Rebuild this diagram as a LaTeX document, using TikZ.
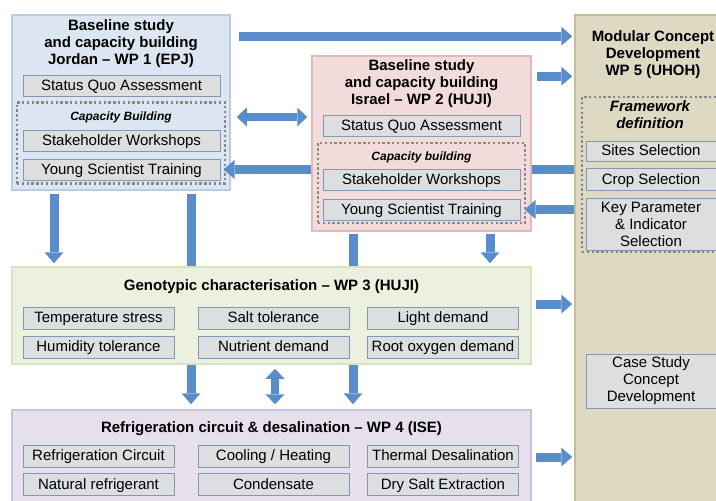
\documentclass[tikz,border=0pt]{standalone}
\usepackage{fontspec}
\setmainfont{Liberation Sans}
\usetikzlibrary{arrows.meta}

\definecolor{wp1fill}{HTML}{DCE6F2}
\definecolor{wp1line}{HTML}{B9CDE5}
\definecolor{wp2fill}{HTML}{F2DCDB}
\definecolor{wp2line}{HTML}{E6B9B8}
\definecolor{wp3fill}{HTML}{EBF1DE}
\definecolor{wp3line}{HTML}{D7E4BD}
\definecolor{wp4fill}{HTML}{E5E0EC}
\definecolor{wp4line}{HTML}{CCC1DA}
\definecolor{wp5fill}{HTML}{DDD9C3}
\definecolor{wp5line}{HTML}{C4BD97}
\definecolor{taskfill}{HTML}{DDDEE0}
\definecolor{taskline}{HTML}{8497B0}
\definecolor{dotgray}{HTML}{888888}
\definecolor{flowblue}{HTML}{5A8CCB}

\begin{document}
\begin{tikzpicture}[
  x=1pt, y=-1pt,
  wp/.style={draw, line width=1.5pt, inner sep=0pt},
  ttl/.style={align=center, font=\fontsize{15}{17}\selectfont\bfseries},
  grptxt/.style={align=center, font=\fontsize{12}{17}\selectfont\bfseries\itshape},
  grp/.style={draw=dotgray, line width=2.6pt, dash pattern=on 2.4pt off 2.4pt, inner sep=0pt},
  task/.style={draw=taskline, fill=taskfill, line width=1pt, inner sep=0pt, align=center,
    font=\fontsize{15}{17}\selectfont},
  wide/.style={task, text height=11pt, text depth=2pt, minimum width=197pt, minimum height=21pt},
  cell/.style={task, text height=11pt, text depth=2pt, minimum width=151pt, minimum height=22pt},
  side/.style={task, minimum width=130pt},
  flow/.style={draw=flowblue, line width=9pt, -{Triangle[width=19pt,length=11pt,line width=0pt]}},
  flows/.style={draw=flowblue, line width=8pt, {Triangle[width=19pt,length=10pt,line width=0pt]}-{Triangle[width=19pt,length=10pt,line width=0pt]}},
]

\clip (0,0) rectangle (716,501);

\node [wp, draw=wp1line, fill=wp1fill, minimum width=218pt, minimum height=175pt] (wp1) at (121,102.5) {};
\node [ttl] (wp1ttl) at (121,44) {Baseline study\\and capacity building\\Jordan – WP 1 (EPJ)};
\node [wide] (wp1sqa) at (121.5,86) {Status Quo Assessment};
\node [grp, minimum width=208pt, minimum height=81pt] (wp1cap) at (121,143) {};
\node [grptxt] (wp1capt) at (121,117) {Capacity Building};
\node [wide] (wp1sw) at (121.5,140.5) {Stakeholder Workshops};
\node [wide] (wp1yst) at (121.5,169.5) {Young Scientist Training};

\node [wp, draw=wp5line, fill=wp5fill, minimum width=160pt, minimum height=500pt] (wp5) at (655,265) {};
\node [ttl] (wp5ttl) at (653,55) {Modular Concept\\Development\\WP 5 (UHOH)};
\node [grp, minimum width=148pt, minimum height=155pt] (wp5frm) at (656,174.5) {};
\node [ttl, font=\fontsize{15}{17}\selectfont\bfseries\itshape] (wp5frmt) at (650,115) {Framework\\definition};
\node [side, text height=11pt, text depth=2pt, minimum height=20pt] (sites) at (651,151) {Sites Selection};
\node [side, text height=11pt, text depth=2pt, minimum height=22pt] (crops) at (651,179.5) {Crop Selection};
\node [side, minimum height=52pt] (keypar) at (651,224) {Key Parameter\\\& Indicator\\Selection};
\node [side, minimum height=54pt] (casestudy) at (651,381) {Case Study\\Concept\\Development};

\node [wp, draw=wp4line, fill=wp4fill, minimum width=519pt, minimum height=105pt] (wp4) at (271.5,462.5) {};
\node [ttl] (wp4ttl) at (271.5,429) {Refrigeration circuit \& desalination – WP 4 (ISE)};
\node [cell] (refcirc) at (98.5,456) {Refrigeration Circuit};
\node [cell] (coolheat) at (273.5,456) {Cooling / Heating};
\node [cell] (thermdes) at (443,456) {Thermal Desalination};
\node [cell] (natref) at (98.5,484.5) {Natural refrigerant};
\node [cell] (condens) at (273.5,484.5) {Condensate};
\node [cell] (drysalt) at (443,484.5) {Dry Salt Extraction};

\draw [flow] (wp5.west |- wp1yst) -- ([xshift=3pt]wp1yst.east);
\draw [flow] ([shift={(70,3)}]wp1.south) -- ([shift={(-80.5,-5)}]wp4.north);

\node [wp, draw=wp2line, fill=wp2fill, minimum width=219pt, minimum height=175pt] (wp2) at (421.5,143.5) {};
\node [ttl] (wp2ttl) at (421.5,84) {Baseline study\\and capacity building\\Israel – WP 2 (HUJI)};
\node [wide] (wp2sqa) at (421.5,125.5) {Status Quo Assessment};
\node [grp, minimum width=207pt, minimum height=80pt] (wp2cap) at (421.5,183) {};
\node [grptxt] (wp2capt) at (421.5,157) {Capacity building};
\node [wide] (wp2sw) at (421.5,179.5) {Stakeholder Workshops};
\node [wide] (wp2yst) at (421.5,209.5) {Young Scientist Training};

\draw [flow] ([shift={(-68.5,2)}]wp2.south) -- ([shift={(81.5,-5)}]wp4.north);

\node [wp, draw=wp3line, fill=wp3fill, minimum width=519pt, minimum height=97pt] (wp3) at (271.5,315.5) {};
\node [ttl] (wp3ttl) at (271.5,287) {Genotypic characterisation – WP 3 (HUJI)};
\node [cell] (tempstr) at (98.5,318) {Temperature stress};
\node [cell] (salttol) at (273.5,318) {Salt tolerance};
\node [cell] (lightdem) at (443,318) {Light demand};
\node [cell] (humtol) at (98.5,347) {Humidity tolerance};
\node [cell] (nutdem) at (273.5,347) {Nutrient demand};
\node [cell] (rootox) at (443,347) {Root oxygen demand};

\draw [flow] ([shift={(8,22)}]wp1.north east) -- ([shift={(-2,22)}]wp5.north west);
\draw [flow] ([shift={(5,21)}]wp2.north east) -- ([shift={(-2,62)}]wp5.north west);
\draw [flows] ([shift={(6,14.5)}]wp1.east) -- ([shift={(-4,-26.5)}]wp2.west);
\draw [flow] (wp5.west |- wp2yst) -- ([xshift=4pt]wp2yst.east);
\draw [flow] ([shift={(-67,3)}]wp1.south) -- ([shift={(-217.5,-3)}]wp3.north);
\draw [flow] ([shift={(68.5,2)}]wp2.south) -- ([shift={(218.5,-3)}]wp3.north);
\draw [flows] ([shift={(3.5,4)}]wp3.south) -- ([shift={(3.5,-5)}]wp4.north);
\draw [flow] ([shift={(4,-11.5)}]wp3.east) -- ([shift={(-2,39)}]wp5.west);
\draw [flow] ([shift={(4,-5.5)}]wp4.east) -- ([shift={(-2,192)}]wp5.west);

\end{tikzpicture}
\end{document}
